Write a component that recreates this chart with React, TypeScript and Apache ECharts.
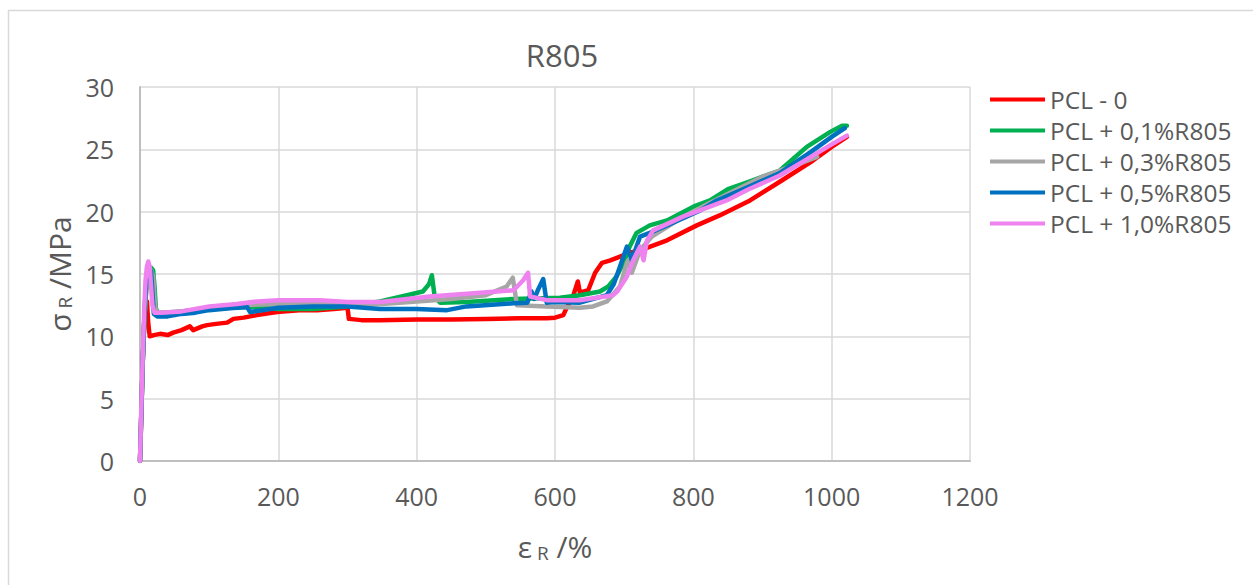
import React, { useEffect, useRef } from "react";
import * as echarts from "echarts";

const seriesNames = [
  "PCL - 0",
  "PCL + 0,1%R805",
  "PCL + 0,3%R805",
  "PCL + 0,5%R805",
  "PCL + 1,0%R805",
];
const seriesColors = ["#ff0000", "#00b050", "#a6a6a6", "#0070c0", "#ee82ee"];

const pcl0: [number, number][] = [
  [0, 0], [2, 4], [4, 8], [6, 11], [8, 12.5], [10, 12.8], [12, 11], [14, 10], [20, 10.1], [29, 10.2],
  [40, 10.1], [48, 10.3], [60, 10.5], [72, 10.8], [77, 10.5], [90, 10.8], [97, 10.9], [110, 11.0],
  [126, 11.1], [135, 11.4], [150, 11.5], [169, 11.7], [198, 11.95], [230, 12.1], [256, 12.1],
  [280, 12.2], [300, 12.3], [302, 11.4], [320, 11.3], [347, 11.3], [400, 11.35], [450, 11.35],
  [500, 11.4], [550, 11.45], [588, 11.45], [600, 11.5], [612, 11.7], [617, 12.3], [626, 13.2],
  [633, 14.4], [636, 13.5], [648, 13.7], [658, 15.1], [668, 15.9], [680, 16.1], [694, 16.4],
  [708, 16.7], [723, 16.9], [762, 17.7], [805, 18.9], [838, 19.7], [882, 20.9], [925, 22.4],
  [973, 24.1], [1000, 25.2], [1022, 26.0],
];
const pcl01: [number, number][] = [
  [0, 0], [2, 4], [4, 8], [6, 11], [8, 13], [10, 14.2], [13, 15.2], [16, 15.5], [19, 15.3], [21, 14],
  [23, 12.2], [26, 11.9], [40, 11.9], [60, 12.0], [80, 12.1], [100, 12.2], [130, 12.3], [160, 12.35],
  [200, 12.2], [250, 12.2], [300, 12.4], [347, 12.8], [386, 13.3], [409, 13.6], [418, 14.2],
  [422, 14.9], [426, 13.2], [434, 12.7], [472, 12.75], [540, 13.0], [607, 13.1], [636, 13.3],
  [665, 13.6], [677, 14.0], [689, 14.8], [700, 16.0], [708, 17.2], [718, 18.3], [737, 18.9],
  [762, 19.3], [800, 20.4], [824, 20.9], [850, 21.8], [880, 22.4], [925, 23.3], [964, 25.2],
  [998, 26.4], [1015, 26.9], [1022, 26.9],
];
const pcl03: [number, number][] = [
  [0, 0], [2, 4], [4, 8], [6, 11], [8, 13], [10, 14.3], [13, 15.1], [16, 15.3], [19, 14.8], [21, 13],
  [23, 12], [30, 11.9], [60, 12.0], [100, 12.3], [150, 12.5], [200, 12.6], [250, 12.6], [300, 12.5],
  [350, 12.6], [400, 12.8], [450, 13.0], [500, 13.3], [530, 14.0], [539, 14.7], [545, 12.5],
  [588, 12.4], [636, 12.3], [655, 12.4], [675, 12.8], [694, 14.0], [704, 15.9], [706, 16.1],
  [711, 15.1], [723, 16.9], [740, 18.0], [780, 19.4], [820, 20.6], [860, 21.7], [900, 22.8],
  [940, 23.6], [960, 24.0], [979, 24.4],
];
const pcl05: [number, number][] = [
  [0, 0], [2, 4], [4, 8], [6, 11], [8, 13.5], [10, 14.8], [13, 15.5], [16, 15.2], [18, 13.5],
  [20, 11.8], [25, 11.6], [40, 11.6], [60, 11.8], [80, 11.9], [100, 12.1], [130, 12.25], [155, 12.35],
  [159, 11.95], [165, 12.0], [200, 12.3], [250, 12.4], [300, 12.4], [347, 12.2], [400, 12.2],
  [444, 12.1], [472, 12.4], [540, 12.65], [560, 12.7], [566, 13.6], [570, 13.0], [576, 13.8],
  [583, 14.6], [588, 12.7], [597, 12.75], [636, 12.7], [675, 13.3], [685, 14.2], [694, 15.6],
  [704, 17.2], [711, 16.1], [723, 18.0], [737, 18.3], [762, 18.9], [810, 20.1], [834, 20.9],
  [880, 22.0], [925, 23.1], [970, 24.8], [1000, 26.0], [1019, 26.7],
];
const pcl10: [number, number][] = [
  [0, 0], [2, 4.5], [4, 8.5], [6, 12], [8, 14.5], [10, 15.6], [12, 16.0], [14, 15.6], [16, 14],
  [18, 12.5], [21, 11.9], [30, 11.9], [60, 12.0], [100, 12.4], [140, 12.6], [170, 12.8], [200, 12.9],
  [260, 12.9], [300, 12.75], [347, 12.75], [419, 13.2], [492, 13.5], [540, 13.7], [554, 14.5],
  [561, 15.1], [564, 13.2], [588, 12.9], [636, 12.9], [684, 13.3], [690, 13.6], [704, 14.8],
  [713, 16.1], [723, 17.2], [728, 16.1], [733, 17.7], [742, 18.5], [785, 19.6], [848, 20.9],
  [880, 21.8], [925, 22.9], [970, 24.4], [1000, 25.4], [1022, 26.1],
];
const allData = [pcl0, pcl01, pcl03, pcl05, pcl10];

const FONT = "'Open Sans', 'Noto Sans', sans-serif";
const TXT = "#595959";

export default function App() {
  const ref = useRef<HTMLDivElement>(null);
  useEffect(() => {
    if (!ref.current) return;
    const chart = echarts.init(ref.current, undefined, { renderer: "svg" });
    chart.setOption({
      animation: false,
      backgroundColor: "#ffffff",
      textStyle: { fontFamily: FONT, color: TXT },
      title: {
        text: "R805",
        left: 557,
        top: 34,
        textAlign: "center",
        textStyle: { fontFamily: FONT, fontSize: 31, fontWeight: "normal", color: TXT },
      },
      graphic: [
        {
          type: "rect",
          shape: { x: 8.5, y: 10.5, width: 1260, height: 600 },
          style: { fill: "none", stroke: "#d9d9d9", lineWidth: 1.5 },
          silent: true,
        },
      ],
      legend: {
        orient: "vertical",
        left: 990,
        top: 87,
        padding: 0,
        icon: "rect",
        itemWidth: 55,
        itemHeight: 4,
        itemGap: 6,
        data: seriesNames,
        textStyle: { fontFamily: FONT, fontSize: 24.5, color: TXT, lineHeight: 25 },
      },
      grid: { left: 140, right: 283, top: 87, bottom: 124, containLabel: false },
      xAxis: {
        type: "value",
        min: 0,
        max: 1200,
        interval: 200,
        name: "{a|ε}{s| R}{a| /%}",
        nameLocation: "middle",
        nameGap: 70,
        nameTextStyle: {
          rich: {
            a: { fontFamily: FONT, fontSize: 30, color: TXT },
            s: { fontFamily: FONT, fontSize: 19, color: TXT, verticalAlign: "bottom", padding: [12, 0, 0, 0] },
          },
        },
        axisLine: { show: true, lineStyle: { color: "#bfbfbf", width: 2 } },
        axisTick: { show: false },
        axisLabel: { fontFamily: FONT, fontSize: 25, color: TXT, margin: 22, formatter: (v: number) => String(v) },
        splitLine: { show: true, lineStyle: { color: "#d9d9d9", width: 1.5 } },
      },
      yAxis: {
        type: "value",
        min: 0,
        max: 30,
        interval: 5,
        name: "{a|σ}{s| R}{a| /MPa}",
        nameLocation: "middle",
        nameGap: 60,
        nameTextStyle: {
          rich: {
            a: { fontFamily: FONT, fontSize: 30, color: TXT },
            s: { fontFamily: FONT, fontSize: 19, color: TXT, verticalAlign: "bottom", padding: [12, 0, 0, 0] },
          },
        },
        axisLine: { show: true, lineStyle: { color: "#bfbfbf", width: 2 } },
        axisTick: { show: false },
        axisLabel: { fontFamily: FONT, fontSize: 25, color: TXT, margin: 26, formatter: (v: number) => String(v) },
        splitLine: { show: true, lineStyle: { color: "#d9d9d9", width: 1.5 } },
      },
      series: seriesNames.map((name, i) => ({
        name,
        type: "line",
        data: allData[i],
        showSymbol: false,
        symbol: "none",
        smooth: false,
        color: seriesColors[i],
        lineStyle: { color: seriesColors[i], width: 4.5, cap: "round", join: "round" },
      })),
    });
    return () => chart.dispose();
  }, []);
  return (
    <div
      ref={ref}
      style={{ position: "fixed", left: 0, top: 0, width: 1253, height: 585 }}
    />
  );
}
